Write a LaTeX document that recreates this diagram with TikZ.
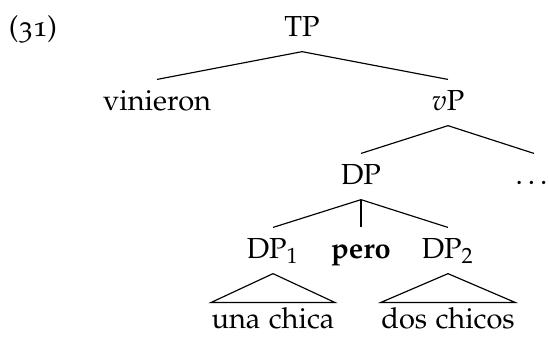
\documentclass[tikz,border=0pt]{standalone}
\usepackage[T1]{fontenc}
\usepackage[osf]{mathpazo}

\begin{document}
\begin{tikzpicture}[x=0.345pt, y=-0.345pt,
  lab/.style={anchor=base, inner sep=0pt, text height=10.35pt, text depth=5.2pt},
  leaf/.style={anchor=base, inner sep=0pt, text height=8.6pt, text depth=2pt}]
\useasboundingbox (0, 0) rectangle (549, 336);
\node[anchor=base] (num) at (33, 36) {(31)};

\node[lab] (tp) at (302, 36) {TP};
\node[lab] (vin) at (157, 110) {vinieron};
\node[lab] (vp) at (448, 110) {$v$P};
\draw (tp.south) -- (vin.north);
\draw (tp.south) -- (vp.north);

\node[lab] (dp) at (361, 184) {DP};
\node[lab] (dots) at (534, 184) {\dots};
\draw (vp.south) -- (dp.north);
\draw (vp.south) -- (dots.north);

\node[lab] (dpa) at (273, 258) {DP$_1$};
\node[lab] (pero) at (361, 258) {\textbf{pero}};
\node[lab] (dpb) at (448, 258) {DP$_2$};
\draw (dp.south) -- (dpa.north);
\draw (dp.south) -- (pero.north);
\draw (dp.south) -- (dpb.north);

\node[leaf] (una) at (273, 328) {una chica};
\node[leaf] (dos) at (448, 328) {dos chicos};
\draw (dpa.south) -- (una.north west) -- (una.north east) -- cycle;
\draw (dpb.south) -- (dos.north west) -- (dos.north east) -- cycle;

\end{tikzpicture}
\end{document}
